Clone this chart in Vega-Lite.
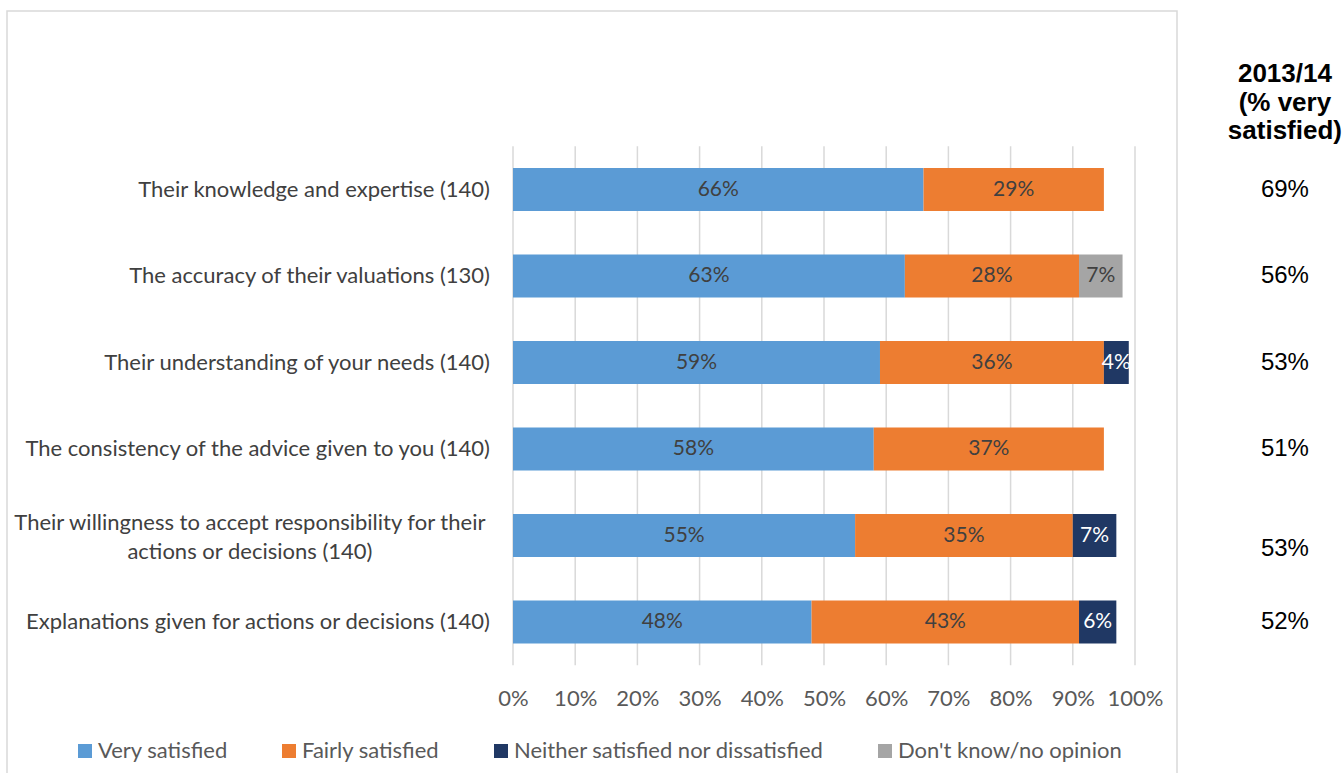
{
  "$schema": "https://vega.github.io/schema/vega-lite/v6.json",
  "width": 1170,
  "height": 800,
  "autosize": {"type": "none"},
  "padding": {"left": 7, "top": 11, "right": 167, "bottom": -38},
  "background": "white",
  "config": {"view": {"stroke": "#d9d9d9", "strokeWidth": 1.5}, "font": "Lato"},
  "datasets": {
    "responses": [
      {"row": 1, "item": "Their knowledge and expertise (140)", "response": "Very satisfied", "k": 1, "value": 0.66},
      {"row": 1, "item": "Their knowledge and expertise (140)", "response": "Fairly satisfied", "k": 2, "value": 0.29},
      {"row": 2, "item": "The accuracy of their valuations (130)", "response": "Very satisfied", "k": 1, "value": 0.63},
      {"row": 2, "item": "The accuracy of their valuations (130)", "response": "Fairly satisfied", "k": 2, "value": 0.28},
      {"row": 2, "item": "The accuracy of their valuations (130)", "response": "Don't know/no opinion", "k": 4, "value": 0.07},
      {"row": 3, "item": "Their understanding of your needs (140)", "response": "Very satisfied", "k": 1, "value": 0.59},
      {"row": 3, "item": "Their understanding of your needs (140)", "response": "Fairly satisfied", "k": 2, "value": 0.36},
      {"row": 3, "item": "Their understanding of your needs (140)", "response": "Neither satisfied nor dissatisfied", "k": 3, "value": 0.04},
      {"row": 4, "item": "The consistency of the advice given to you (140)", "response": "Very satisfied", "k": 1, "value": 0.58},
      {"row": 4, "item": "The consistency of the advice given to you (140)", "response": "Fairly satisfied", "k": 2, "value": 0.37},
      {"row": 5, "item": "Their willingness to accept responsibility for their actions or decisions (140)", "response": "Very satisfied", "k": 1, "value": 0.55},
      {"row": 5, "item": "Their willingness to accept responsibility for their actions or decisions (140)", "response": "Fairly satisfied", "k": 2, "value": 0.35},
      {"row": 5, "item": "Their willingness to accept responsibility for their actions or decisions (140)", "response": "Neither satisfied nor dissatisfied", "k": 3, "value": 0.07},
      {"row": 6, "item": "Explanations given for actions or decisions (140)", "response": "Very satisfied", "k": 1, "value": 0.48},
      {"row": 6, "item": "Explanations given for actions or decisions (140)", "response": "Fairly satisfied", "k": 2, "value": 0.43},
      {"row": 6, "item": "Explanations given for actions or decisions (140)", "response": "Neither satisfied nor dissatisfied", "k": 3, "value": 0.06}
    ],
    "prior": [
      {"row": 1, "item": "Their knowledge and expertise (140)", "pct": 0.69},
      {"row": 2, "item": "The accuracy of their valuations (130)", "pct": 0.56},
      {"row": 3, "item": "Their understanding of your needs (140)", "pct": 0.53},
      {"row": 4, "item": "The consistency of the advice given to you (140)", "pct": 0.51},
      {"row": 5, "item": "Their willingness to accept responsibility for their\nactions or decisions (140)", "pct": 0.53},
      {"row": 6, "item": "Explanations given for actions or decisions (140)", "pct": 0.52}
    ],
    "ticks": [
      {"tick": 0}, {"tick": 0.1}, {"tick": 0.2}, {"tick": 0.3}, {"tick": 0.4}, {"tick": 0.5},
      {"tick": 0.6}, {"tick": 0.7}, {"tick": 0.8}, {"tick": 0.9}, {"tick": 1}
    ],
    "header": [
      {"header": "2013/14\n(% very\nsatisfied)"}
    ]
  },
  "layer": [
    {
      "data": {"name": "ticks"},
      "mark": {"type": "rule", "color": "#d9d9d9", "strokeWidth": 1.5},
      "encoding": {
        "x": {"field": "tick", "type": "quantitative",
              "scale": {"domain": [0, 1], "range": [506, 1128], "nice": false, "zero": false, "padding": 0},
              "axis": {"values": [0, 0.1, 0.2, 0.3, 0.4, 0.5, 0.6, 0.7, 0.8, 0.9, 1], "format": ".0%",
                       "domain": false, "ticks": false, "grid": false, "title": null,
                       "labelFont": "Lato", "labelFontSize": 22, "labelColor": "#595959",
                       "labelBaseline": "middle", "labelPadding": 0, "offset": -113, "labelFlush": false, "labelOverlap": false}},
        "y": {"datum": 0.5, "type": "quantitative",
              "scale": {"domain": [0.5, 6.5], "range": [135.25, 654.25], "nice": false, "zero": false, "padding": 0},
              "axis": null},
        "y2": {"datum": 6.5}
      }
    },
    {
      "data": {"name": "responses"},
      "mark": {"type": "bar", "height": 43, "orient": "horizontal"},
      "encoding": {
        "x": {"field": "value", "type": "quantitative", "stack": "zero"},
        "y": {"field": "row", "type": "quantitative"},
        "color": {"field": "response", "type": "nominal",
                  "scale": {"domain": ["Very satisfied", "Fairly satisfied", "Neither satisfied nor dissatisfied", "Don't know/no opinion"],
                            "range": ["#5B9BD5", "#ED7D31", "#203864", "#A5A5A5"]},
                  "legend": {"orient": "none", "legendX": 67, "legendY": 729, "direction": "horizontal", "columns": 4,
                             "title": null, "symbolType": "square", "symbolSize": 196, "symbolStrokeWidth": 0,
                             "labelFont": "Lato", "labelFontSize": 22, "labelColor": "#595959", "labelLimit": 0,
                             "columnPadding": 50, "labelOffset": 2, "padding": 0}},
        "order": {"field": "k", "type": "quantitative"}
      }
    },
    {
      "data": {"name": "responses"},
      "mark": {"type": "text", "font": "Lato", "fontSize": 21, "align": "center", "baseline": "middle"},
      "encoding": {
        "x": {"field": "value", "type": "quantitative", "stack": "zero", "bandPosition": 0.5},
        "y": {"field": "row", "type": "quantitative"},
        "detail": {"field": "response", "type": "nominal"},
        "order": {"field": "k", "type": "quantitative"},
        "text": {"field": "value", "type": "quantitative", "format": ".0%"},
        "color": {"condition": {"test": "datum.response === 'Neither satisfied nor dissatisfied'", "value": "white"}, "value": "#404040"}
      }
    },
    {
      "data": {"name": "prior"},
      "transform": [{"filter": "datum.row != 5"}],
      "mark": {"type": "text", "font": "Lato", "fontSize": 22, "align": "right", "baseline": "middle", "color": "#404040"},
      "encoding": {
        "x": {"datum": -0.037, "type": "quantitative"},
        "y": {"field": "row", "type": "quantitative"},
        "text": {"field": "item", "type": "nominal"}
      }
    },
    {
      "data": {"name": "prior"},
      "transform": [{"filter": "datum.row == 5"}],
      "mark": {"type": "text", "font": "Lato", "fontSize": 22, "align": "center", "baseline": "middle", "color": "#404040", "lineBreak": "\n", "lineHeight": 29, "dy": -12.5},
      "encoding": {
        "x": {"datum": -0.423, "type": "quantitative"},
        "y": {"field": "row", "type": "quantitative"},
        "text": {"field": "item", "type": "nominal"}
      }
    },
    {
      "data": {"name": "prior"},
      "transform": [{"filter": "datum.row != 5"}],
      "mark": {"type": "text", "font": "Liberation Sans", "fontSize": 24, "align": "center", "baseline": "middle", "color": "#000000"},
      "encoding": {
        "x": {"datum": 1.241, "type": "quantitative"},
        "y": {"field": "row", "type": "quantitative"},
        "text": {"field": "pct", "type": "quantitative", "format": ".0%"}
      }
    },
    {
      "data": {"name": "prior"},
      "transform": [{"filter": "datum.row == 5"}],
      "mark": {"type": "text", "font": "Liberation Sans", "fontSize": 24, "align": "center", "baseline": "middle", "color": "#000000", "dy": 13},
      "encoding": {
        "x": {"datum": 1.241, "type": "quantitative"},
        "y": {"field": "row", "type": "quantitative"},
        "text": {"field": "pct", "type": "quantitative", "format": ".0%"}
      }
    },
    {
      "data": {"name": "header"},
      "mark": {"type": "text", "font": "Liberation Sans", "fontSize": 26, "fontWeight": "bold", "align": "center", "baseline": "middle", "color": "#000000", "lineBreak": "\n", "lineHeight": 28.5},
      "encoding": {
        "x": {"datum": 1.241, "type": "quantitative"},
        "y": {"datum": -0.335, "type": "quantitative"},
        "text": {"field": "header", "type": "nominal"}
      }
    }
  ]
}
